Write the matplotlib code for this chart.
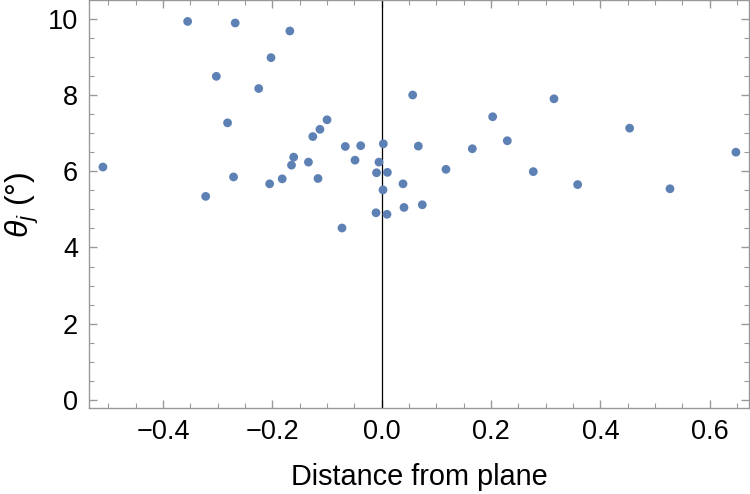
import numpy as np
import matplotlib
matplotlib.use("Agg")
import matplotlib.pyplot as plt
from matplotlib.ticker import MultipleLocator

plt.rcParams['font.family'] = ['Liberation Sans', 'DejaVu Sans']
plt.rcParams['mathtext.fontset'] = 'custom'
plt.rcParams['mathtext.rm'] = 'Liberation Sans'
plt.rcParams['mathtext.it'] = 'Liberation Sans:italic'

# distance from plane vs theta_j (degrees)
distance = [-0.510, -0.355, -0.268, -0.168, -0.2025, -0.3025, -0.225, -0.282,
            -0.322, -0.271, -0.205, -0.182, -0.165, -0.161, -0.134, -0.126,
            -0.113, -0.100, -0.1165, -0.0726, -0.0666, -0.0488, -0.0384,
            -0.0104, -0.0094, -0.005, 0.003, 0.0104, 0.0024, 0.0097, 0.039,
            0.0408, 0.0743, 0.0567, 0.067, 0.1176, 0.1658, 0.203, 0.2298,
            0.2773, 0.3152, 0.3585, 0.4536, 0.5274, 0.648]
theta_j = [6.11, 9.93, 9.89, 9.68, 8.98, 8.49, 8.17, 7.27,
           5.34, 5.85, 5.67, 5.80, 6.16, 6.37, 6.24, 6.91,
           7.10, 7.35, 5.81, 4.51, 6.65, 6.29, 6.67,
           4.91, 5.96, 6.24, 6.72, 5.97, 5.51, 4.87, 5.67,
           5.05, 5.12, 8.00, 6.66, 6.05, 6.59, 7.43, 6.80,
           5.99, 7.90, 5.65, 7.13, 5.54, 6.50]

fig = plt.figure(figsize=(7.5, 4.94), dpi=100)
ax = fig.add_axes([0.119, 0.1735, 0.8797, 0.8255])

ax.scatter(distance, theta_j, s=40, color="#5E81B5", edgecolors="none", zorder=3)
ax.axvline(0, color="black", lw=0.9, zorder=2)

ax.set_xlim(-0.535, 0.672)
ax.set_ylim(-0.22, 10.48)
ax.xaxis.set_major_locator(MultipleLocator(0.2))
ax.xaxis.set_minor_locator(MultipleLocator(0.05))
ax.yaxis.set_major_locator(MultipleLocator(2))
ax.yaxis.set_minor_locator(MultipleLocator(0.5))
ax.xaxis.set_major_formatter(plt.FuncFormatter(
    lambda v, p: f"{v:.1f}".replace("-", "\u2212") if abs(v) > 1e-9 else "0.0"))

for s in ax.spines.values():
    s.set_color("#999999")
    s.set_linewidth(1)
ax.tick_params(which="both", direction="in", top=True, right=True, color="#999999",
               labelsize=19.5, pad=8)
ax.tick_params(which="major", length=6, width=1)
ax.tick_params(which="minor", length=3.5, width=0.8)

ax.set_xlabel("Distance from plane", fontsize=20.8, labelpad=13)
ax.set_ylabel(r"$\theta_j$ (°)", fontsize=23, labelpad=5)

fig.savefig("out.png", dpi=100)
